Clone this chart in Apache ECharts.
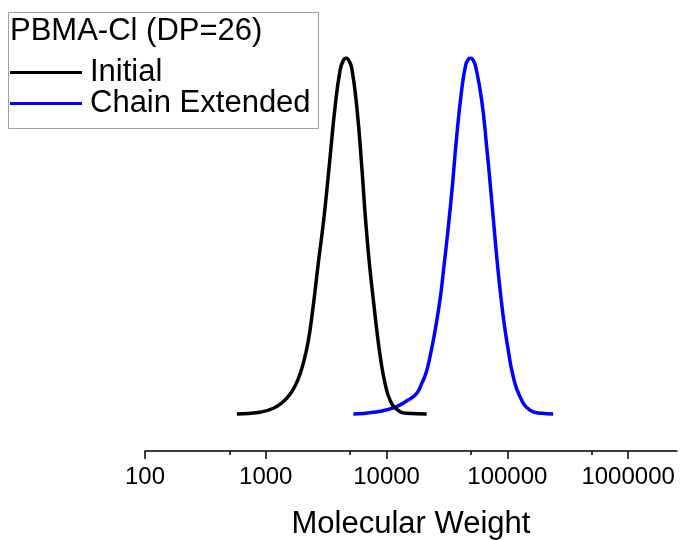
<!DOCTYPE html>
<html>
<head>
<meta charset="utf-8">
<script src="https://cdn.jsdelivr.net/npm/echarts@6/dist/echarts.min.js"></script>
<style>
  html, body { margin: 0; padding: 0; background: #fff; }
  #main { width: 685px; height: 540px; }
</style>
</head>
<body>
<div id="main"></div>
<script>
// molecular weight (g/mol) and normalised signal
const initialMW = [577, 899, 1158, 1401, 1644, 1864, 2078, 2255, 2406, 2563, 2728, 2928, 3100, 3410, 3750,
  4124, 4368, 4624, 4896, 5155, 5669, 6236, 6553, 6898, 7303, 7777, 8297, 8954, 9719, 10690, 12150, 14690, 21500];
const initialY = [0, 0.005, 0.016, 0.035, 0.063, 0.1, 0.152, 0.208, 0.273, 0.348, 0.427, 0.508, 0.581, 0.723, 0.863,
  0.966, 0.992, 1.0, 0.992, 0.971, 0.863, 0.695, 0.59, 0.494, 0.404, 0.32, 0.236, 0.152, 0.086, 0.039, 0.013, 0.002, 0];

const extendedMW = [5314, 7777, 11390, 15060, 17770, 19550, 21220, 22900, 25190, 27970, 29500, 31470, 34620,
  38070, 41880, 45200, 47410, 49710, 52130, 54670, 61290, 67430, 74170, 78960, 84050, 92500, 101700, 111900,
  127100, 153800, 192200, 239700];
const extendedY = [0, 0.005, 0.017, 0.039, 0.058, 0.086, 0.115, 0.161, 0.233, 0.331, 0.399, 0.483, 0.62,
  0.779, 0.91, 0.98, 0.996, 1.0, 0.994, 0.976, 0.882, 0.751, 0.601, 0.497, 0.399, 0.273, 0.18, 0.105,
  0.049, 0.011, 0.002, 0];

const majorTicks = [100, 1000, 10000, 100000, 1000000];
const minorTicks = [500, 5000, 50000, 500000];

const legendTitle = 'PBMA-Cl (DP=26)';
const seriesNames = ['Initial', 'Chain Extended'];

const font = "'Liberation Sans', Arial, sans-serif";

const pairs = (xs, ys) => xs.map((x, i) => [x, ys[i]]);

const chart = echarts.init(document.getElementById('main'));

const option = {
  animation: false,
  backgroundColor: '#fff',
  title: {
    text: legendTitle,
    left: 10,
    top: 16,
    padding: 0,
    textStyle: { fontFamily: font, fontSize: 31, fontWeight: 'normal', color: '#000' }
  },
  legend: {
    orient: 'vertical',
    left: 10,
    top: 57,
    padding: 0,
    itemGap: 0,
    icon: 'rect',
    itemWidth: 72,
    itemHeight: 3,
    data: seriesNames,
    textStyle: { fontFamily: font, fontSize: 31, color: '#000', lineHeight: 29, padding: [0, 0, 0, 3] }
  },
  graphic: [{
    type: 'rect',
    shape: { x: 8.5, y: 12.5, width: 310, height: 116 },
    style: { fill: null, stroke: '#a0a0a0', lineWidth: 1 },
    z: 10
  }],
  grid: { left: 145, right: 8, top: 58, bottom: 89, outerBoundsMode: 'none', containLabel: false },
  xAxis: [{
    type: 'log',
    logBase: 10,
    min: 100,
    max: 2540000,
    name: 'Molecular Weight',
    nameLocation: 'middle',
    nameGap: 58,
    nameTextStyle: { fontFamily: font, fontSize: 31, color: '#000', verticalAlign: 'top' },
    axisLine: { show: true, onZero: false, lineStyle: { color: '#000', width: 1.5 } },
    axisTick: { show: true, customValues: majorTicks, length: 8, lineStyle: { color: '#000', width: 1.5 } },
    axisLabel: {
      customValues: majorTicks,
      fontFamily: font, fontSize: 24, color: '#000', margin: 14,
      formatter: v => String(Math.round(v))
    },
    splitLine: { show: false },
    minorTick: { show: false }
  }, {
    type: 'log',
    logBase: 10,
    min: 100,
    max: 2540000,
    position: 'bottom',
    axisLine: { show: false, onZero: false },
    axisTick: { show: true, customValues: minorTicks, length: 4, lineStyle: { color: '#000', width: 1.5 } },
    axisLabel: { show: false },
    splitLine: { show: false }
  }],
  yAxis: {
    type: 'value',
    min: -0.104,
    max: 1,
    show: false,
    splitLine: { show: false }
  },
  series: [{
    name: seriesNames[0],
    type: 'line',
    smooth: 0.5,
    symbol: 'none',
    data: pairs(initialMW, initialY),
    lineStyle: { color: '#000', width: 3.5 },
    itemStyle: { color: '#000' },
    z: 3
  }, {
    name: seriesNames[1],
    type: 'line',
    smooth: 0.5,
    symbol: 'none',
    data: pairs(extendedMW, extendedY),
    lineStyle: { color: '#0000ff', width: 3.5 },
    itemStyle: { color: '#0000ff' },
    z: 2
  }]
};

chart.setOption(option);
</script>
</body>
</html>
